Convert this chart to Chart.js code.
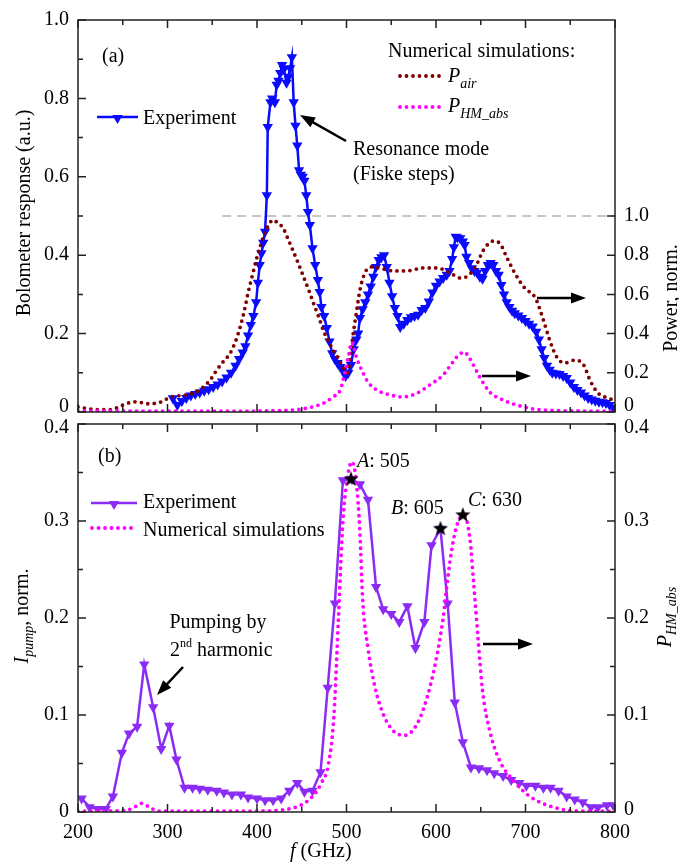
<!DOCTYPE html>
<html>
<head>
<meta charset="utf-8">
<script src="https://cdn.jsdelivr.net/npm/chart.js@4.4.1/dist/chart.umd.min.js"></script>
<style>
    body { margin: 0; background: #fff; }
    #wrap { position: relative; width: 679px; height: 864px; }
    canvas { position: absolute; left: 0; }
    #topChart { top: 0; }
    #botChart { top: 415px; }
</style>
</head>
<body>
<div id="wrap">
    <canvas id="topChart" width="679" height="420"></canvas>
    <canvas id="botChart" width="679" height="449"></canvas>
</div>
<script>
// ---- panel (a): bolometer response ----
const fExpA = [306, 311, 316, 321, 326, 331, 336, 341, 346, 351, 356, 361, 366, 371, 376, 380, 384, 387, 390, 393,
    396, 399, 401, 403, 405, 407, 409, 411, 412, 415, 417, 420, 422, 424, 426, 428, 430, 433, 435, 437,
    439, 441, 443, 445, 447, 449, 451, 453, 455, 457, 459, 462, 465, 468, 470, 472, 475, 478, 481, 484,
    487, 490, 493, 496, 499, 502, 505, 508, 511, 513, 515, 518, 521, 524, 527, 530, 533, 536, 539, 542,
    545, 548, 551, 554, 557, 560, 564, 568, 572, 576, 580, 584, 588, 592, 596, 600, 604, 608, 612, 615,
    618, 620, 622, 624, 627, 630, 632, 634, 637, 640, 643, 646, 649, 652, 655, 658, 661, 664, 667, 670,
    673, 676, 679, 682, 685, 688, 692, 696, 700, 704, 708, 712, 715, 718, 721, 724, 727, 730, 734, 738,
    742, 746, 750, 754, 758, 762, 766, 770, 774, 778, 782, 786, 790, 794, 798];
const expA = [0.035, 0.018, 0.028, 0.036, 0.042, 0.046, 0.050, 0.054, 0.058, 0.064, 0.070, 0.078, 0.088, 0.100, 0.118, 0.135, 0.152, 0.168, 0.195, 0.222,
    0.245, 0.280, 0.330, 0.375, 0.405, 0.432, 0.460, 0.553, 0.727, 0.790, 0.800, 0.790, 0.835, 0.845, 0.865, 0.885, 0.875, 0.840, 0.855, 0.877,
    0.905, 0.790, 0.730, 0.680, 0.617, 0.605, 0.600, 0.590, 0.553, 0.510, 0.477, 0.418, 0.375, 0.337, 0.306, 0.268, 0.245, 0.214, 0.180, 0.150,
    0.135, 0.125, 0.115, 0.107, 0.092, 0.100, 0.120, 0.160, 0.185, 0.200, 0.240, 0.262, 0.280, 0.300, 0.320, 0.345, 0.370, 0.388, 0.395, 0.400,
    0.370, 0.330, 0.295, 0.265, 0.245, 0.217, 0.225, 0.235, 0.242, 0.245, 0.248, 0.260, 0.265, 0.282, 0.305, 0.322, 0.333, 0.342, 0.350, 0.360,
    0.390, 0.420, 0.447, 0.445, 0.443, 0.435, 0.426, 0.396, 0.380, 0.367, 0.360, 0.355, 0.345, 0.340, 0.360, 0.375, 0.380, 0.375, 0.360, 0.350,
    0.324, 0.300, 0.280, 0.268, 0.258, 0.252, 0.246, 0.240, 0.232, 0.225, 0.218, 0.205, 0.185, 0.160, 0.138, 0.118, 0.108, 0.100, 0.098, 0.097,
    0.092, 0.087, 0.075, 0.064, 0.056, 0.050, 0.042, 0.036, 0.032, 0.029, 0.026, 0.025, 0.023, 0.018, 0.010];

const fAir = [200, 210, 222, 236, 250, 258, 266, 277, 292, 303, 312, 322, 331, 340, 348, 355, 362, 370, 376, 381,
    386, 390, 395, 400, 404, 407, 412, 418, 423, 429, 434, 440, 446, 452, 458, 463, 469, 474, 480, 485,
    490, 495, 501, 504, 507, 511, 515, 521, 528, 537, 552, 567, 586, 601, 616, 627, 634, 644, 653, 664,
    671, 679, 688, 699, 711, 720, 727, 735, 744, 755, 765, 772, 781, 792, 800];
const pAir = [0.026, 0.018, 0.012, 0.012, 0.035, 0.048, 0.052, 0.042, 0.050, 0.075, 0.082, 0.088, 0.100, 0.128, 0.165, 0.214, 0.255, 0.300, 0.360, 0.430,
    0.520, 0.607, 0.700, 0.790, 0.850, 0.893, 0.945, 0.980, 0.965, 0.940, 0.890, 0.826, 0.760, 0.690, 0.620, 0.556, 0.485, 0.418, 0.360, 0.316,
    0.280, 0.240, 0.200, 0.265, 0.383, 0.505, 0.622, 0.714, 0.740, 0.734, 0.720, 0.720, 0.735, 0.735, 0.709, 0.684, 0.690, 0.740, 0.826, 0.872,
    0.862, 0.790, 0.709, 0.633, 0.582, 0.469, 0.367, 0.280, 0.250, 0.265, 0.240, 0.163, 0.097, 0.071, 0.060];

const fHmA = [200, 250, 300, 350, 400, 430, 445, 456, 465, 472, 478, 485, 493, 498, 502, 506, 511, 517, 524, 534,
    549, 563, 579, 593, 608, 618, 623, 628, 632, 636, 640, 649, 660, 675, 690, 709, 730, 760, 800];
const pHmA = [0.005, 0.005, 0.004, 0.004, 0.005, 0.008, 0.012, 0.020, 0.030, 0.040, 0.055, 0.077, 0.112, 0.199, 0.280, 0.355, 0.280, 0.214, 0.153, 0.112,
    0.087, 0.077, 0.097, 0.138, 0.189, 0.250, 0.280, 0.300, 0.306, 0.285, 0.255, 0.178, 0.102, 0.061, 0.036, 0.015, 0.008, 0.005, 0.004];

const fRef = [361, 800];
const pRef = [1.0, 1.0];

// ---- panel (b): pump current ----
const fExpB = [204, 213, 222, 231, 239, 249, 257, 266, 274, 284, 293, 302, 310, 319, 328, 336, 345, 355, 363, 372,
    382, 390, 400, 409, 418, 427, 436, 445, 453, 462, 471, 479, 487, 496, 506, 515, 524, 533, 541, 550,
    559, 568, 577, 587, 595, 605, 613, 621, 630, 639, 648, 657, 665, 675, 684, 693, 701, 711, 720, 728,
    737, 746, 755, 764, 773, 781, 791, 798];
const expB = [0.014, 0.005, 0.003, 0.003, 0.016, 0.061, 0.081, 0.088, 0.152, 0.108, 0.065, 0.089, 0.054, 0.025, 0.025, 0.024, 0.023, 0.022, 0.020, 0.018,
    0.018, 0.015, 0.014, 0.012, 0.012, 0.014, 0.022, 0.030, 0.021, 0.022, 0.041, 0.128, 0.215, 0.342, 0.343, 0.338, 0.322, 0.232, 0.209, 0.204,
    0.196, 0.212, 0.169, 0.196, 0.275, 0.292, 0.215, 0.113, 0.072, 0.046, 0.045, 0.043, 0.040, 0.037, 0.033, 0.030, 0.027, 0.027, 0.025, 0.025,
    0.022, 0.016, 0.013, 0.010, 0.005, 0.005, 0.007, 0.007];

const fSimB = [200, 230, 255, 265, 271, 278, 290, 320, 400, 440, 463, 472, 480, 486, 491, 496, 502, 506, 511, 515,
    518, 524, 532, 541, 552, 565, 579, 590, 599, 608, 613, 619, 625, 631, 638, 642, 647, 652, 660, 671,
    686, 705, 731, 760, 800];
const simB = [0.001, 0.001, 0.002, 0.006, 0.009, 0.006, 0.001, 0.001, 0.001, 0.004, 0.017, 0.030, 0.050, 0.100, 0.200, 0.300, 0.350, 0.361, 0.340, 0.288,
    0.220, 0.169, 0.128, 0.101, 0.084, 0.079, 0.091, 0.118, 0.152, 0.200, 0.240, 0.278, 0.300, 0.306, 0.281, 0.237, 0.179, 0.125, 0.084, 0.053,
    0.033, 0.016, 0.005, 0.001, 0.001];

const fStar = [505, 605, 630];
const yStar = [0.343, 0.292, 0.306];

const ticksA = [0, 0.2, 0.4, 0.6, 0.8, 1.0];
const ticksB = [0, 0.1, 0.2, 0.3, 0.4];
const xLabels = [200, 300, 400, 500, 600, 700, 800];

const SERIF = "'Liberation Serif', 'Times New Roman', serif";
const F_R = "20px " + SERIF;
const F_I = "italic 20px " + SERIF;
const F_S = "italic 14px " + SERIF;
const BLUE = "#0a0aff";
const VIOLET = "#8b2cf5";
const MAGENTA = "#ff00ff";
const DARKRED = "#800000";

const pts = (xs, ys) => xs.map((x, i) => ({ x: x, y: ys[i] }));

function starImage(r) {
    const c = document.createElement("canvas");
    c.width = c.height = 2 * r + 2;
    const g = c.getContext("2d");
    g.beginPath();
    for (let i = 0; i < 10; i++) {
        const rr = i % 2 ? r * 0.42 : r;
        const a = -Math.PI / 2 + (i * Math.PI) / 5;
        g.lineTo(r + 1 + rr * Math.cos(a), r + 1 + rr * Math.sin(a));
    }
    g.closePath();
    g.fillStyle = "#000";
    g.fill();
    return c;
}

function rich(ctx, parts, x, y, center) {
    let total = 0;
    for (const p of parts) { ctx.font = p[1]; total += ctx.measureText(p[0]).width; }
    let cx = center ? x - total / 2 : x;
    ctx.textAlign = "left";
    ctx.textBaseline = "alphabetic";
    ctx.fillStyle = "#000";
    for (const p of parts) {
        ctx.font = p[1];
        ctx.fillText(p[0], cx, y + (p[2] || 0));
        cx += ctx.measureText(p[0]).width;
    }
}

function rotated(ctx, parts, bx, cy) {
    ctx.save();
    ctx.translate(bx, cy);
    ctx.rotate(-Math.PI / 2);
    rich(ctx, parts, 0, 0, true);
    ctx.restore();
}

function arrow(ctx, x1, y1, x2, y2) {
    const a = Math.atan2(y2 - y1, x2 - x1);
    const hl = 15, hw = 5.5;
    ctx.save();
    ctx.strokeStyle = "#000";
    ctx.fillStyle = "#000";
    ctx.lineWidth = 2.5;
    ctx.beginPath();
    ctx.moveTo(x1, y1);
    ctx.lineTo(x2 - hl * 0.8 * Math.cos(a), y2 - hl * 0.8 * Math.sin(a));
    ctx.stroke();
    ctx.beginPath();
    ctx.moveTo(x2, y2);
    ctx.lineTo(x2 - hl * Math.cos(a) + hw * Math.sin(a), y2 - hl * Math.sin(a) - hw * Math.cos(a));
    ctx.lineTo(x2 - hl * Math.cos(a) - hw * Math.sin(a), y2 - hl * Math.sin(a) + hw * Math.cos(a));
    ctx.closePath();
    ctx.fill();
    ctx.restore();
}

function downTriangle(ctx, x, y, r, color) {
    ctx.beginPath();
    ctx.moveTo(x, y + r);
    ctx.lineTo(x - r * 0.866, y - r * 0.5);
    ctx.lineTo(x + r * 0.866, y - r * 0.5);
    ctx.closePath();
    ctx.fillStyle = color;
    ctx.fill();
}

function dotted(ctx, x1, x2, y, color) {
    ctx.save();
    ctx.strokeStyle = color;
    ctx.lineWidth = 3.8;
    ctx.lineCap = "round";
    ctx.setLineDash([0, 6.5]);
    ctx.beginPath();
    ctx.moveTo(x1, y);
    ctx.lineTo(x2, y);
    ctx.stroke();
    ctx.restore();
}

function frameAndTicks(chart, yStepL, yMaxL, yStepR, yMaxR, rightId) {
    const ctx = chart.ctx, a = chart.chartArea;
    const sx = chart.scales.x, sl = chart.scales.y, sr = chart.scales[rightId];
    ctx.save();
    ctx.strokeStyle = "#222";
    ctx.lineWidth = 1.5;
    ctx.strokeRect(a.left, a.top, a.right - a.left, a.bottom - a.top);
    ctx.beginPath();
    for (let v = 200; v <= 800; v += 50) {
        const px = sx.getPixelForValue(v), len = v % 100 === 0 ? 8 : 5;
        ctx.moveTo(px, a.top); ctx.lineTo(px, a.top + len);
        ctx.moveTo(px, a.bottom); ctx.lineTo(px, a.bottom - len);
    }
    for (let i = 0; i * yStepL <= yMaxL + 1e-9; i++) {
        const py = sl.getPixelForValue(i * yStepL), len = i % 2 === 0 ? 8 : 5;
        ctx.moveTo(a.left, py); ctx.lineTo(a.left + len, py);
    }
    for (let i = 0; i * yStepR <= yMaxR + 1e-9; i++) {
        const py = sr.getPixelForValue(i * yStepR), len = (yStepR > 0.1 || i % 2 === 0) ? 8 : 5;
        ctx.moveTo(a.right, py); ctx.lineTo(a.right - len, py);
    }
    ctx.stroke();
    ctx.restore();
}

function yLabels(ctx, scale, values, x, align, shift) {
    ctx.save();
    ctx.font = F_R;
    ctx.fillStyle = "#000";
    ctx.textAlign = align;
    ctx.textBaseline = "middle";
    values.forEach((v, i) => {
        const s = v === 0 ? "0" : v.toFixed(1);
        ctx.fillText(s, x, scale.getPixelForValue(v) + (shift[i] || 0));
    });
    ctx.restore();
}

const decorA = {
    id: "decorA",
    afterDraw(chart) {
        const ctx = chart.ctx;
        frameAndTicks(chart, 0.1, 1.0, 0.2, 1.0, "y2");
        yLabels(ctx, chart.scales.y, ticksA, 69, "right", [-5]);
        yLabels(ctx, chart.scales.y2, ticksA, 624, "left", [-6]);

        rich(ctx, [["(a)", F_R]], 102, 62);
        // legend
        ctx.save();
        ctx.strokeStyle = BLUE; ctx.lineWidth = 2.5;
        ctx.beginPath(); ctx.moveTo(97, 117); ctx.lineTo(138, 117); ctx.stroke();
        ctx.restore();
        downTriangle(ctx, 117.5, 118, 6, BLUE);
        rich(ctx, [["Experiment", F_R]], 143, 124);

        rich(ctx, [["Numerical simulations:", F_R]], 388, 57);
        dotted(ctx, 400, 443, 76, DARKRED);
        rich(ctx, [["P", F_I], ["air", F_S, 6]], 448, 82);
        dotted(ctx, 400, 443, 107, MAGENTA);
        rich(ctx, [["P", F_I], ["HM_abs", F_S, 6]], 448, 112);

        arrow(ctx, 346, 141, 300, 115);
        rich(ctx, [["Resonance mode", F_R]], 353, 155);
        rich(ctx, [["(Fiske steps)", F_R]], 353, 180);

        arrow(ctx, 537, 298, 586, 298);
        arrow(ctx, 482, 376, 531, 376);

        rotated(ctx, [["Bolometer response (a.u.)", F_R]], 30, 213);
        rotated(ctx, [["Power, norm.", F_R]], 677, 298);
    }
};

const decorB = {
    id: "decorB",
    afterDraw(chart) {
        const ctx = chart.ctx;
        frameAndTicks(chart, 0.05, 0.4, 0.05, 0.4, "y2");
        yLabels(ctx, chart.scales.y, ticksB, 69, "right", [0, 0, 0, 0, 4]);
        yLabels(ctx, chart.scales.y2, ticksB, 624, "left", [-2, 0, 0, 0, 4]);

        ctx.save();
        ctx.translate(0, -415);
        rich(ctx, [["(b)", F_R]], 98, 462);
        ctx.save();
        ctx.strokeStyle = VIOLET; ctx.lineWidth = 2.5;
        ctx.beginPath(); ctx.moveTo(91, 503); ctx.lineTo(137, 503); ctx.stroke();
        ctx.restore();
        downTriangle(ctx, 114, 504, 6, VIOLET);
        rich(ctx, [["Experiment", F_R]], 143, 508);
        dotted(ctx, 92, 137, 528, MAGENTA);
        rich(ctx, [["Numerical simulations", F_R]], 143, 536);

        rich(ctx, [["Pumping by", F_R]], 218, 628, true);
        rich(ctx, [["2", F_R], ["nd", "12px " + SERIF, -9], [" harmonic", F_R]], 170, 656);
        arrow(ctx, 183, 667, 157, 695);
        arrow(ctx, 483, 644, 533, 644);

        rich(ctx, [["A", F_I], [": 505", F_R]], 357, 467);
        rich(ctx, [["B", F_I], [": 605", F_R]], 391, 514);
        rich(ctx, [["C", F_I], [": 630", F_R]], 468, 506);

        rotated(ctx, [["I", F_I], ["pump", F_S, 5], [", norm.", F_R]], 28, 616);
        rotated(ctx, [["P", F_I], ["HM_abs", F_S, 5]], 671, 617);
        rich(ctx, [["f", F_I], [" (GHz)", F_R]], 290, 857);
        ctx.restore();
    }
};

const dottedLine = (data, color, axis) => ({
    data: data, yAxisID: axis, borderColor: color, borderWidth: 3.8,
    borderDash: [0, 6.5], borderCapStyle: "round", pointRadius: 0,
    cubicInterpolationMode: "monotone", fill: false
});

const hiddenY = (max, pos) => ({ type: "linear", position: pos, min: 0, max: max, display: false });

new Chart(document.getElementById("topChart"), {
    type: "line",
    data: {
        datasets: [
            dottedLine(pts(fHmA, pHmA), MAGENTA, "y2"),
            dottedLine(pts(fAir, pAir), DARKRED, "y2"),
            {
                data: pts(fExpA, expA), yAxisID: "y", borderColor: BLUE, backgroundColor: BLUE,
                borderWidth: 2.5, pointStyle: "triangle", pointRotation: 180, pointRadius: 6,
                pointBorderWidth: 0, tension: 0
            },
            {
                data: pts(fRef, pRef), yAxisID: "y2", borderColor: "#b4b4b4", borderWidth: 1.5,
                borderDash: [9, 6], pointRadius: 0
            }
        ]
    },
    options: {
        responsive: false,
        animation: false,
        layout: { padding: { left: 78, right: 64, top: 20, bottom: 8 } },
        plugins: { legend: { display: false }, tooltip: { enabled: false } },
        scales: {
            x: { type: "linear", min: 200, max: 800, display: false },
            y: hiddenY(1.0, "left"),
            y2: hiddenY(2.0, "right")
        }
    },
    plugins: [decorA]
});

new Chart(document.getElementById("botChart"), {
    type: "line",
    data: {
        datasets: [
            {
                data: pts(fStar, yStar), yAxisID: "y", showLine: false,
                pointStyle: starImage(8), pointRadius: 8
            },
            dottedLine(pts(fSimB, simB), MAGENTA, "y2"),
            {
                data: pts(fExpB, expB), yAxisID: "y", borderColor: VIOLET, backgroundColor: VIOLET,
                borderWidth: 2.5, pointStyle: "triangle", pointRotation: 180, pointRadius: 6,
                pointBorderWidth: 0, tension: 0
            }
        ]
    },
    options: {
        responsive: false,
        animation: false,
        layout: { padding: { left: 78, right: 64, top: 6, bottom: 0 } },
        plugins: { legend: { display: false }, tooltip: { enabled: false } },
        scales: {
            x: {
                type: "linear", min: 200, max: 800,
                afterBuildTicks: (s) => { s.ticks = xLabels.map((v) => ({ value: v })); },
                afterFit: (s) => { s.height = 52; },
                grid: { display: false, drawTicks: false },
                border: { display: false },
                ticks: { color: "#000", font: { family: SERIF, size: 20 }, padding: 9, maxRotation: 0 }
            },
            y: hiddenY(0.4, "left"),
            y2: hiddenY(0.4, "right")
        }
    },
    plugins: [decorB]
});
</script>
</body>
</html>
